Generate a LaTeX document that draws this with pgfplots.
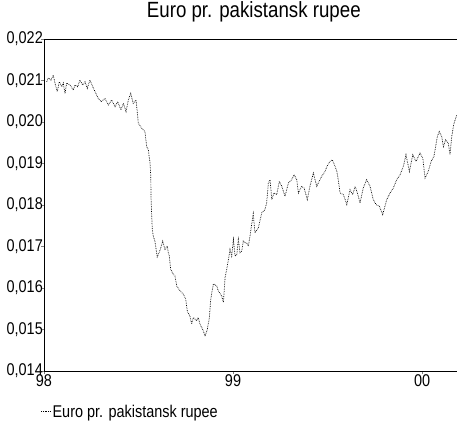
\documentclass[border=0pt]{standalone}
\usepackage{fontspec}
\setmainfont{Liberation Sans}[FakeStretch=0.85]
\usepackage{pgfplots}
\pgfplotsset{compat=1.18}
\pgfplotstableread{
x y
1998.014 0.02097
1998.023 0.02106
1998.037 0.02101
1998.049 0.02113
1998.058 0.02094
1998.070 0.02073
1998.081 0.02097
1998.094 0.02085
1998.102 0.02094
1998.111 0.02069
1998.120 0.02094
1998.138 0.02089
1998.155 0.02077
1998.164 0.02089
1998.178 0.02085
1998.190 0.02101
1998.205 0.02089
1998.217 0.02097
1998.229 0.02081
1998.243 0.02101
1998.258 0.02085
1998.270 0.02073
1998.287 0.02057
1998.302 0.02049
1998.323 0.02057
1998.340 0.02041
1998.358 0.02053
1998.376 0.02037
1998.390 0.02049
1998.407 0.02029
1998.420 0.02045
1998.434 0.02025
1998.446 0.02053
1998.459 0.02069
1998.472 0.02045
1998.487 0.02053
1998.494 0.02021
1998.499 0.01997
1998.517 0.01985
1998.534 0.01977
1998.543 0.01941
1998.552 0.01933
1998.561 0.01901
1998.565 0.01869
1998.566 0.01821
1998.570 0.01773
1998.573 0.01741
1998.578 0.01725
1998.587 0.01713
1998.599 0.01675
1998.614 0.01691
1998.628 0.01713
1998.640 0.01693
1998.652 0.01701
1998.658 0.01685
1998.663 0.01677
1998.670 0.01645
1998.684 0.01633
1998.693 0.01629
1998.702 0.01605
1998.720 0.01593
1998.737 0.01585
1998.750 0.01573
1998.758 0.01544
1998.772 0.01532
1998.781 0.01513
1998.790 0.01529
1998.808 0.01521
1998.816 0.01529
1998.825 0.01513
1998.840 0.01500
1998.852 0.01484
1998.864 0.01500
1998.875 0.01529
1998.882 0.01573
1998.896 0.01610
1998.914 0.01605
1998.922 0.01593
1998.940 0.01581
1998.949 0.01565
1998.958 0.01625
1998.970 0.01653
1998.984 0.01693
1998.993 0.01677
1999.002 0.01717
1999.011 0.01677
1999.020 0.01680
1999.028 0.01717
1999.037 0.01685
1999.046 0.01689
1999.054 0.01713
1999.063 0.01709
1999.072 0.01709
1999.081 0.01701
1999.090 0.01725
1999.107 0.01779
1999.116 0.01733
1999.134 0.01745
1999.152 0.01781
1999.169 0.01789
1999.178 0.01805
1999.187 0.01853
1999.196 0.01861
1999.205 0.01813
1999.217 0.01829
1999.231 0.01825
1999.245 0.01857
1999.258 0.01845
1999.275 0.01821
1999.293 0.01853
1999.310 0.01861
1999.323 0.01873
1999.337 0.01861
1999.346 0.01829
1999.363 0.01845
1999.376 0.01841
1999.393 0.01813
1999.407 0.01845
1999.425 0.01877
1999.443 0.01845
1999.460 0.01861
1999.469 0.01869
1999.487 0.01881
1999.501 0.01897
1999.513 0.01905
1999.525 0.01909
1999.540 0.01893
1999.549 0.01881
1999.557 0.01861
1999.566 0.01829
1999.584 0.01825
1999.602 0.01801
1999.619 0.01837
1999.633 0.01825
1999.646 0.01845
1999.658 0.01829
1999.672 0.01805
1999.689 0.01841
1999.707 0.01861
1999.725 0.01845
1999.742 0.01813
1999.757 0.01801
1999.774 0.01797
1999.792 0.01777
1999.813 0.01813
1999.831 0.01829
1999.848 0.01841
1999.866 0.01861
1999.884 0.01873
1999.901 0.01893
1999.915 0.01921
1999.933 0.01881
1999.951 0.01921
1999.968 0.01905
1999.989 0.01925
2000.004 0.01913
2000.016 0.01865
2000.033 0.01881
2000.048 0.01905
2000.063 0.01917
2000.081 0.01965
2000.091 0.01977
2000.104 0.01965
2000.113 0.01941
2000.125 0.01957
2000.139 0.01949
2000.148 0.01921
2000.157 0.01965
2000.169 0.01997
2000.184 0.02017
}\rupee
\begin{document}
\begin{tikzpicture}
\path[use as bounding box] (-44pt,-54pt) rectangle (413pt,371pt);
\begin{axis}[
  at={(0pt,0pt)}, anchor=south west,
  scale only axis,
  width=413pt, height=332pt,
  xmin=1998, xmax=2000.185,
  ymin=0.014, ymax=0.022,
  separate axis lines,
  axis x line*=box,
  axis y line*=left,
  axis line style={line width=0.8pt},
  xtick={1998,1999,2000},
  xticklabels={98,99,00},
  ytick={0.014,0.015,0.016,0.017,0.018,0.019,0.020,0.021,0.022},
  xtick pos=bottom, ytick pos=left,
  tick align=outside,
  major tick length=3pt,
  scaled y ticks=false,
  /pgf/number format/assume math mode=true,
  /pgf/number format/use comma,
  /pgf/number format/fixed,
  /pgf/number format/fixed zerofill,
  /pgf/number format/precision=3,
  yticklabel style={inner xsep=0pt, xshift=2pt},
  xticklabel style={inner ysep=0pt},
  ticklabel style={font=\fontsize{17}{19}\selectfont},
  title={Euro pr. pakistansk rupee},
  title style={font=\fontsize{22}{25}\selectfont, at={(rel axis cs:0.508,1.063)}, anchor=center},
  legend style={draw=none, fill=none, at={(rel axis cs:-0.008,-0.123)}, anchor=west,
    font=\fontsize{17}{19}\selectfont, inner sep=0pt,
    legend cell align=left},
  legend image code/.code={\draw[#1] (0pt,0pt) -- (9pt,0pt);},
  clip=false,
]
\addplot[black, densely dotted, line width=0.7pt] table[x=x, y=y] {\rupee};
\addlegendentry{Euro pr. pakistansk rupee}
\end{axis}
\end{tikzpicture}
\end{document}
